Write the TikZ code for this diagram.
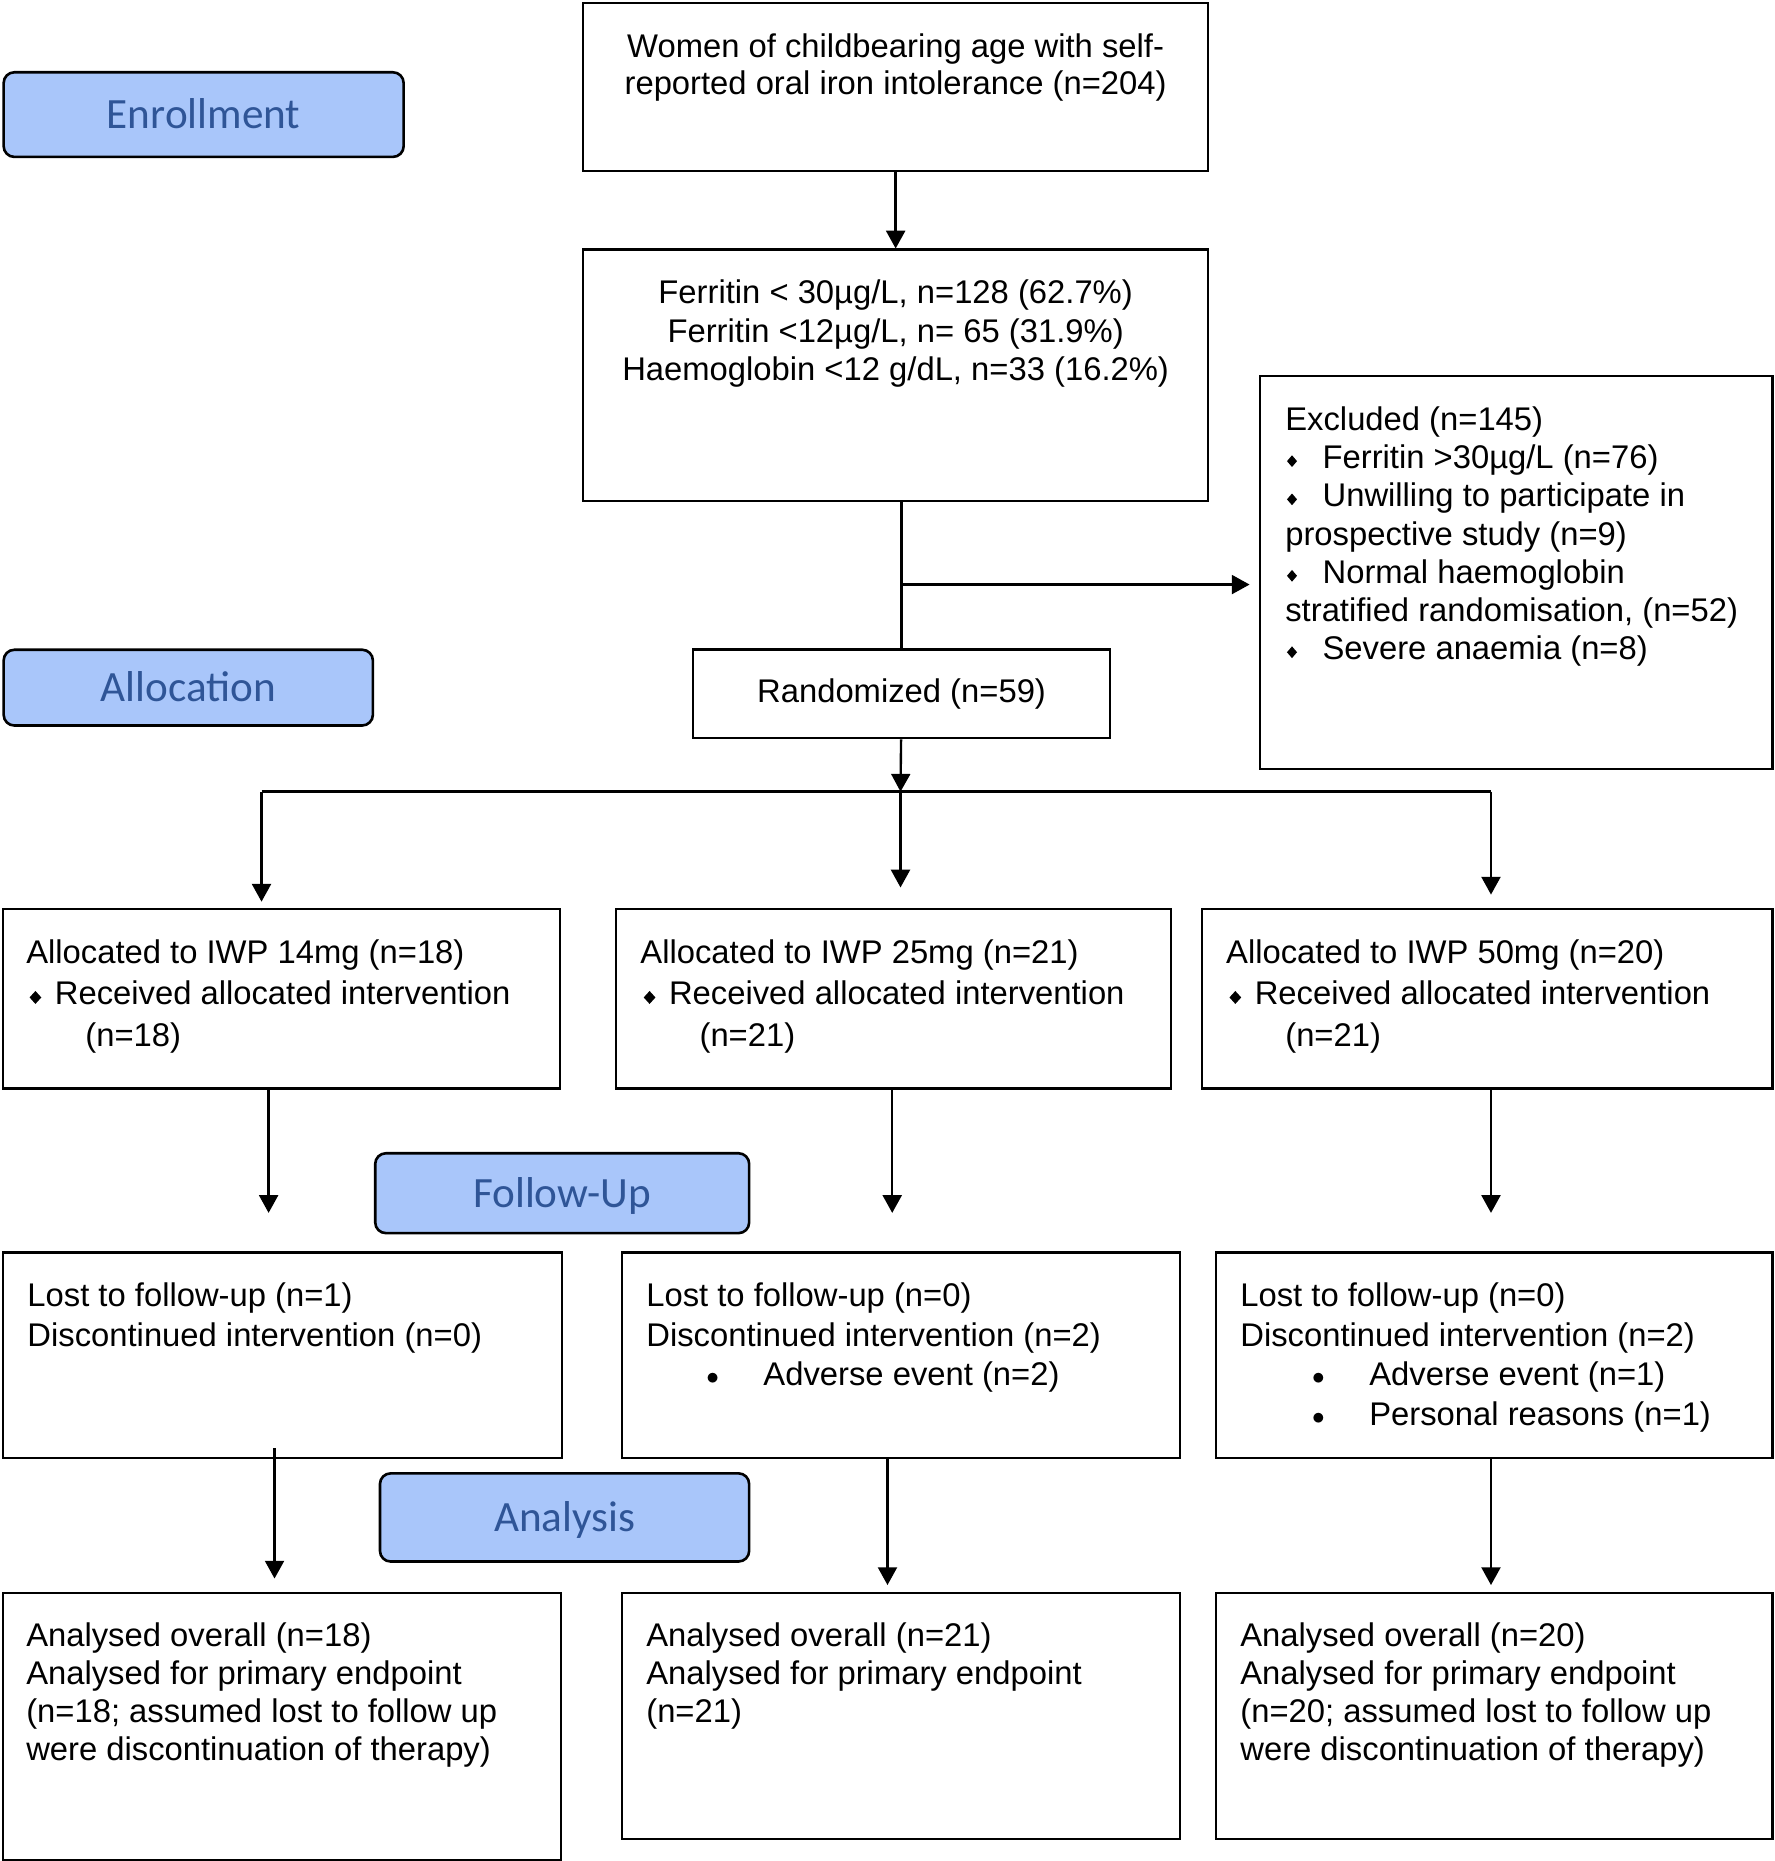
\documentclass[tikz,border=0pt]{standalone}
\usepackage{fontspec}
\setmainfont{Liberation Sans}
\newfontfamily\stagefont{Carlito}
\usepackage{amssymb}
\usepackage{graphicx}
\usepackage{xcolor}
\usetikzlibrary{arrows.meta,positioning}
\definecolor{stagefill}{HTML}{A9C6FA}
\definecolor{stagetext}{HTML}{2F5597}
\newcommand{\topstrut}{\rule{0pt}{22pt}}
% diamond bullet: #1 gap before, #2 box width, #3 x scale, #4 y scale, #5 raise
\newcommand{\dmd}[5]{\hspace*{#1}\makebox[#2][l]{\raisebox{#5}{\scalebox{#3}[#4]{\rotatebox{45}{\rule{5pt}{5pt}}}}}}
\newcommand{\bul}[1]{\hspace*{#1}\makebox[48.3pt][l]{\raisebox{1pt}{\scalebox{0.86}{$\bullet$}}}}

\begin{document}
\begin{tikzpicture}[x=1pt, y=-1pt,
  box/.style={draw, line width=1.8pt, anchor=north west, inner sep=0pt, font=\fontsize{27.7}{32.5}\selectfont},
  stage/.style={draw, line width=2.2pt, rounded corners=9pt, fill=stagefill, text=stagetext, font=\stagefont\fontsize{36.5}{40}\selectfont, anchor=north west, inner sep=0pt, text height=23.5pt, text depth=0pt},
  txt/.style={inner sep=0pt, align=left, font=\fontsize{27.7}{32.5}\selectfont},
  arr/.style={-{Triangle[width=16pt,length=15pt]}, line width=2pt}]
\useasboundingbox (0,0) rectangle (1500,1572.7);
% stages
\node[stage, minimum width=338pt, minimum height=71.5pt] (enroll) at (2,60) {Enrollment};
\node[stage, minimum width=312pt, minimum height=64pt] (allocst) at (2,548) {Allocation};
\node[stage, minimum width=316pt, minimum height=67.5pt] (follow) at (316,973.5) {Follow-Up};
\node[stage, minimum width=312pt, minimum height=74.5pt] (analysis) at (320,1244) {Analysis};
% top part
\node[box, minimum width=528pt, minimum height=141.5pt] (women) at (492,2) {};
\node[txt, align=center, font=\fontsize{27.7}{31.5}\selectfont, below=24.5pt of women.north] (womentxt) {\topstrut Women of childbearing age with self-\\reported oral iron intolerance (n=204)};
\node[box, minimum width=528pt, minimum height=212.5pt] (ferr) at (492,210) {};
\node[txt, align=center, below=24.5pt of ferr.north] (ferrtxt) {\topstrut Ferritin < 30µg/L, n=128 (62.7\%)\\Ferritin <12µg/L, n= 65 (31.9\%)\\Haemoglobin <12 g/dL, n=33 (16.2\%)};
\node[box, minimum width=433pt, minimum height=332pt] (excl) at (1064,317) {};
\node[txt, font=\fontsize{27.7}{32.3}\selectfont, below right=24.5pt and 22pt of excl.north west] (excltxt) {\topstrut Excluded (n=145)\\
\dmd{1.4pt}{30.1pt}{1.2}{1.4}{1.35pt}Ferritin >30µg/L (n=76)\\
\dmd{1.4pt}{30.1pt}{1.2}{1.4}{1.35pt}Unwilling to participate in\\
prospective study (n=9)\\
\dmd{1.4pt}{30.1pt}{1.2}{1.4}{1.35pt}Normal haemoglobin\\
stratified randomisation, (n=52)\\
\dmd{1.4pt}{30.1pt}{1.2}{1.4}{1.35pt}Severe anaemia (n=8)};
\node[box, minimum width=352pt, minimum height=75pt] (rand) at (585,548) {Randomized (n=59)};
% allocation
\node[box, minimum width=470pt, minimum height=151.5pt] (alloc1) at (2,767.5) {};
\node[box, minimum width=469pt, minimum height=151.5pt] (alloc2) at (520,767.5) {};
\node[box, minimum width=482pt, minimum height=151.5pt] (alloc3) at (1015,767.5) {};
\node[txt, font=\fontsize{27.7}{35}\selectfont, below right=24.5pt and 20pt of alloc1.north west] (alloc1txt) {\topstrut Allocated to IWP 14mg (n=18)\\\dmd{2.8pt}{21.4pt}{1.4}{1.55}{0.8pt}Received allocated intervention\\\hspace*{50pt}(n=18)};
\node[txt, font=\fontsize{27.7}{35}\selectfont, below right=24.5pt and 21pt of alloc2.north west] (alloc2txt) {\topstrut Allocated to IWP 25mg (n=21)\\\dmd{2.8pt}{21.4pt}{1.4}{1.55}{0.8pt}Received allocated intervention\\\hspace*{50pt}(n=21)};
\node[txt, font=\fontsize{27.7}{35}\selectfont, below right=24.5pt and 21pt of alloc3.north west] (alloc3txt) {\topstrut Allocated to IWP 50mg (n=20)\\\dmd{2.8pt}{21.4pt}{1.4}{1.55}{0.8pt}Received allocated intervention\\\hspace*{50pt}(n=21)};
% follow-up
\node[box, minimum width=472pt, minimum height=173.5pt] (lost1) at (2,1057.5) {};
\node[box, minimum width=471pt, minimum height=173.5pt] (lost2) at (525,1057.5) {};
\node[box, minimum width=470pt, minimum height=173.5pt] (lost3) at (1027,1057.5) {};
\node[txt, font=\fontsize{27.7}{33.5}\selectfont, below right=24.5pt and 21pt of lost1.north west] (lost1txt) {\topstrut Lost to follow-up (n=1)\\Discontinued intervention (n=0)};
\node[txt, font=\fontsize{27.7}{33.5}\selectfont, below right=24.5pt and 21pt of lost2.north west] (lost2txt) {\topstrut Lost to follow-up (n=0)\\Discontinued intervention (n=2)\\\bul{50.7pt}Adverse event (n=2)};
\node[txt, font=\fontsize{27.7}{33.5}\selectfont, below right=24.5pt and 21pt of lost3.north west] (lost3txt) {\topstrut Lost to follow-up (n=0)\\Discontinued intervention (n=2)\\\bul{60.7pt}Adverse event (n=1)\\\bul{60.7pt}Personal reasons (n=1)};
% analysis
\node[box, minimum width=471pt, minimum height=226pt] (anal1) at (2,1345) {};
\node[box, minimum width=471pt, minimum height=208pt] (anal2) at (525,1345) {};
\node[box, minimum width=470pt, minimum height=208pt] (anal3) at (1027,1345) {};
\node[txt, font=\fontsize{27.7}{32}\selectfont, below right=24.5pt and 20pt of anal1.north west] (anal1txt) {\topstrut Analysed overall (n=18)\\Analysed for primary endpoint\\(n=18; assumed lost to follow up\\were discontinuation of therapy)};
\node[txt, font=\fontsize{27.7}{32}\selectfont, below right=24.5pt and 21pt of anal2.north west] (anal2txt) {\topstrut Analysed overall (n=21)\\Analysed for primary endpoint\\(n=21)};
\node[txt, font=\fontsize{27.7}{32}\selectfont, below right=24.5pt and 21pt of anal3.north west] (anal3txt) {\topstrut Analysed overall (n=20)\\Analysed for primary endpoint\\(n=20; assumed lost to follow up\\were discontinuation of therapy)};
% connector points
\coordinate (split) at (761,494);
\coordinate (exclx) at (1056,494);
\coordinate (bar) at (761,669);
\coordinate (barl) at (221,669);
\coordinate (barr) at (1260,669);
\coordinate (tl1) at (221,762);
\coordinate (tm1) at (761,750);
\coordinate (tr1) at (1260,756);
\coordinate (tl2) at (227,1025);
\coordinate (tm2) at (754,1025);
\coordinate (tr2) at (1260,1025);
\coordinate (tl3) at (232,1334);
\coordinate (tm3) at (750,1339.5);
\coordinate (tr3) at (1260,1339.5);
\draw[line width=2pt] (ferr.south -| rand.north) -- (rand.north);
\draw[line width=2pt] (barl) -- (barr);
\path[arr]
(women) edge (ferr)
(split) edge (exclx)
(rand) edge (bar)
(barl) edge (tl1)
(bar) edge (tm1)
(barr) edge (tr1)
(alloc1.south -| tl2) edge (tl2)
(alloc2.south -| tm2) edge (tm2)
(alloc3.south -| tr2) edge (tr2)
([yshift=9pt]lost1.south -| tl3) edge (tl3)
(lost2.south -| tm3) edge (tm3)
(lost3.south -| tr3) edge (tr3);
\end{tikzpicture}
\end{document}
